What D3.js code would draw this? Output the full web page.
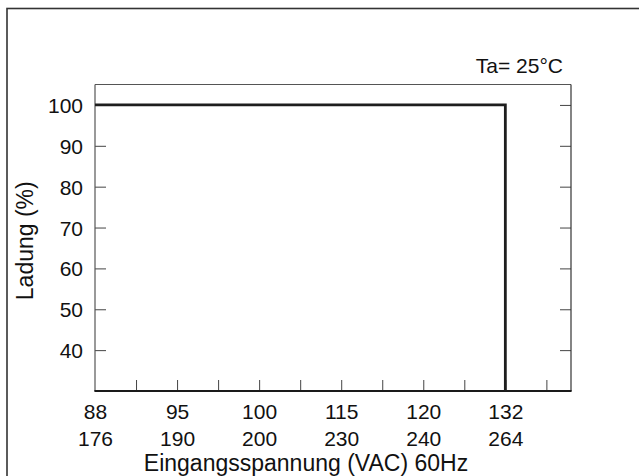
<!DOCTYPE html>
<html>
<head>
<meta charset="utf-8">
<script src="https://cdn.jsdelivr.net/npm/d3@7"></script>
<style>
  html, body { margin: 0; padding: 0; background: #fff; }
  svg { display: block; }
  text { font-family: "Liberation Sans", Arial, Helvetica, sans-serif; fill: #111; }
</style>
</head>
<body>
<svg id="chart" width="639" height="476"></svg>
<script>
// ---- data ----
const xTopLabels = ["88", "95", "100", "115", "120", "132"];      // VAC (100–120 V range)
const xBottomLabels = ["176", "190", "200", "230", "240", "264"]; // VAC (200–240 V range)
const yTicks = [40, 50, 60, 70, 80, 90, 100];
const curveVoltage = ["88", "132", "132"];
const curveLoad = [100, 100, 30];
const yLabel = "Ladung (%)";
const xLabel = "Eingangsspannung (VAC) 60Hz";
const note = "Ta= 25°C";

// ---- layout ----
const svg = d3.select("#chart");
const L = 95, R = 571, T = 84.5, B = 391;

// outer frame (extends past the right/bottom edges)
svg.append("rect")
  .attr("x", 7).attr("y", 8.5).attr("width", 700).attr("height", 600)
  .attr("fill", "none").attr("stroke", "#333").attr("stroke-width", 1.6);

const x = d3.scaleLinear().domain([0, 5.8]).range([L, R]);
const y = d3.scaleLinear().domain([30, 105]).range([B, T]);

// minor/major ticks on the bottom (pointing upward)
const halfSteps = d3.range(1, 12).map(i => i * 0.5);
svg.append("g")
  .attr("transform", `translate(0,${B})`)
  .call(d3.axisBottom(x).tickValues(halfSteps).tickSize(-11).tickFormat(""))
  .call(g => g.select(".domain").remove())
  .call(g => g.selectAll(".tick line").attr("stroke", "#444").attr("stroke-width", 1));

// bottom labels (two rows)
const xl = svg.append("g")
  .attr("transform", `translate(0,${B})`)
  .call(d3.axisBottom(x).tickValues(d3.range(xTopLabels.length)).tickSize(0).tickPadding(0)
    .tickFormat(i => xTopLabels[i]))
  .call(g => g.select(".domain").remove());
xl.selectAll(".tick text")
  .attr("font-size", 21).attr("fill", "#111").attr("dy", null).attr("y", 28)
  .each(function(i) {
    d3.select(this).append("tspan").attr("x", 0).attr("dy", 27).text(xBottomLabels[i]);
  });

// left axis (ticks pointing inward)
svg.append("g")
  .attr("transform", `translate(${L},0)`)
  .call(d3.axisLeft(y).tickValues(yTicks).tickSize(-11).tickPadding(12))
  .call(g => g.select(".domain").remove())
  .call(g => g.selectAll(".tick line").attr("stroke", "#444"))
  .call(g => g.selectAll(".tick text").attr("font-size", 21).attr("fill", "#111").attr("dy", "0.36em")
    .attr("x", -12));

// right axis ticks (inward)
svg.append("g")
  .attr("transform", `translate(${R},0)`)
  .call(d3.axisRight(y).tickValues(yTicks).tickSize(-11).tickFormat(""))
  .call(g => g.select(".domain").remove())
  .call(g => g.selectAll(".tick line").attr("stroke", "#444"));

// plot box
svg.append("line").attr("x1", L).attr("x2", R).attr("y1", T).attr("y2", T)
  .attr("stroke", "#555").attr("stroke-width", 1);
svg.append("line").attr("x1", L).attr("x2", L).attr("y1", T).attr("y2", B)
  .attr("stroke", "#555").attr("stroke-width", 1.2);
svg.append("line").attr("x1", R).attr("x2", R).attr("y1", T).attr("y2", B)
  .attr("stroke", "#333").attr("stroke-width", 1.2);
svg.append("line").attr("x1", L - 0.6).attr("x2", R + 0.6).attr("y1", B).attr("y2", B)
  .attr("stroke", "#1a1a1a").attr("stroke-width", 1.8);

// derating curve
const pts = curveVoltage.map((v, i) => [xTopLabels.indexOf(v), curveLoad[i]]);
svg.append("path")
  .datum(pts)
  .attr("fill", "none").attr("stroke", "#1e1e1e").attr("stroke-width", 2.8)
  .attr("stroke-linejoin", "miter")
  .attr("d", d3.line().x(d => x(d[0])).y(d => y(d[1])));

// labels
svg.append("text")
  .attr("transform", `translate(33,${(T + B) / 2 + 3}) rotate(-90)`)
  .attr("text-anchor", "middle").attr("font-size", 23).attr("fill", "#222")
  .text(yLabel);

svg.append("text")
  .attr("x", 306).attr("y", 471)
  .attr("text-anchor", "middle").attr("font-size", 23).attr("fill", "#222")
  .text(xLabel);

svg.append("text")
  .attr("x", 563).attr("y", 73)
  .attr("text-anchor", "end").attr("font-size", 21).attr("fill", "#111")
  .text(note);
</script>
</body>
</html>
